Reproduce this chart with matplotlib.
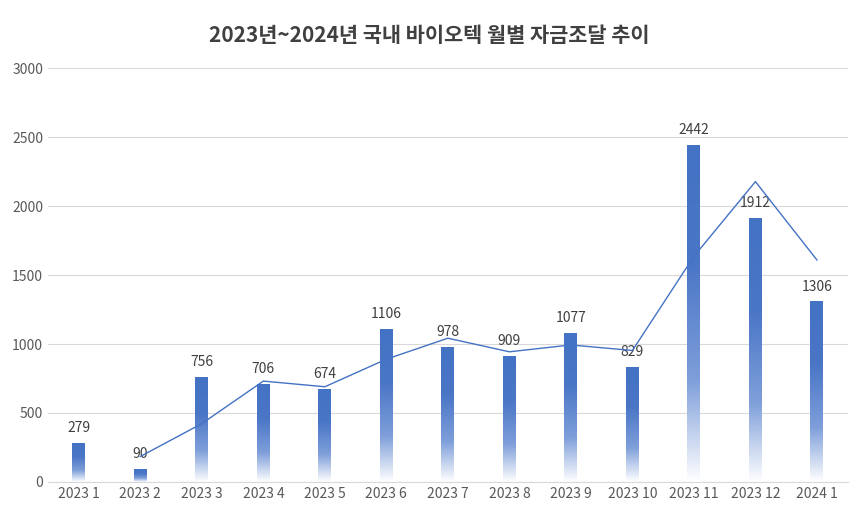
import numpy as np
import pandas as pd
import matplotlib
matplotlib.use("Agg")
import matplotlib.pyplot as plt
from matplotlib.colors import LinearSegmentedColormap

plt.rcParams['font.family'] = ['Noto Sans CJK KR', 'Noto Sans CJK JP', 'Noto Sans CJK SC',
                               'Noto Sans CJK TC', 'DejaVu Sans']

categories = ["2023 1", "2023 2", "2023 3", "2023 4", "2023 5", "2023 6", "2023 7",
              "2023 8", "2023 9", "2023 10", "2023 11", "2023 12", "2024 1"]
values = [279, 90, 756, 706, 674, 1106, 978, 909, 1077, 829, 2442, 1912, 1306]
title = "2023년~2024년 국내 바이오텍 월별 자금조달 추이"

fig = plt.figure(figsize=(8.58, 5.16), dpi=100)
ax = fig.add_axes([0.056, 0.066, 0.932, 0.802])
x = np.arange(len(categories))
w = 0.21

cmap = LinearSegmentedColormap.from_list("g", [(0, "#ffffff"), (0.3, "#7f9fda"),
                                               (0.65, "#4a76c6"), (1, "#4472C4")])
grad = np.linspace(0, 1, 256).reshape(-1, 1)
bars = ax.bar(x, values, width=w, color="none")
for b, v in zip(bars, values):
    ax.imshow(grad, extent=(b.get_x(), b.get_x() + w, 0, v), origin="lower",
              cmap=cmap, aspect="auto", zorder=2)
    ax.text(b.get_x() + w / 2, v + 60, str(v), ha="center", va="bottom",
            fontsize=10, color="#404040")

ma = pd.Series(values).rolling(2).mean()
ax.plot(x, ma, color="#4472C4", lw=1, zorder=3)

ax.set_xlim(-0.5, len(categories) - 0.5)
ax.set_ylim(0, 3000)
ax.set_yticks(range(0, 3001, 500))
ax.set_xticks(x)
ax.set_xticklabels(categories)
ax.tick_params(length=0, labelsize=10, colors="#595959")
ax.grid(axis="y", color="#d9d9d9", lw=0.8)
ax.set_axisbelow(True)
for s in ["top", "right", "left"]:
    ax.spines[s].set_visible(False)
ax.spines["bottom"].set_color("#d9d9d9")
fig.text(0.5, 0.932, title, ha="center", va="center", fontsize=15,
         fontweight="bold", color="#404040")
fig.savefig("out.png", dpi=100)
